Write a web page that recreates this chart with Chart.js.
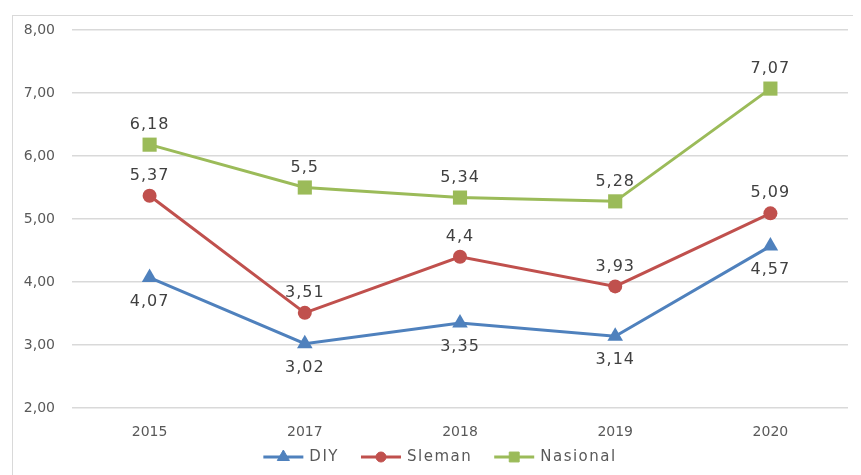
<!DOCTYPE html>
<html>
<head>
<meta charset="utf-8">
<script src="https://cdn.jsdelivr.net/npm/chart.js@4.4.0/dist/chart.umd.min.js"></script>
<style>
  html, body { margin: 0; padding: 0; background: #fff; }
  #wrap { position: relative; width: 861px; height: 475px; }
  #frame { position: absolute; left: 12px; top: 15px; width: 840px; height: 460px;
           border-left: 1px solid #d9d9d9; border-top: 1px solid #d9d9d9; }
  canvas { position: absolute; left: 0; top: 0; }
</style>
</head>
<body>
<div id="wrap">
  <div id="frame"></div>
  <canvas id="chart" width="861" height="475"></canvas>
</div>
<script>
const years = ["2015", "2017", "2018", "2019", "2020"];
const diy = [4.07, 3.02, 3.35, 3.14, 4.57];
const sleman = [5.37, 3.51, 4.4, 3.93, 5.09];
const nasional = [6.18, 5.5, 5.34, 5.28, 7.07];

const textColor = "#595959";

function fmt(v) {
  return String(v).replace(".", ",");
}

// labels next to each point, above or below
const pointLabels = {
  id: "pointLabels",
  afterDatasetsDraw(chart) {
    const ctx = chart.ctx;
    ctx.save();
    ctx.font = "16px 'DejaVu Sans'";
    ctx.letterSpacing = "1px";
    ctx.fillStyle = "#404040";
    ctx.textAlign = "center";
    ctx.textBaseline = "middle";
    chart.data.datasets.forEach((ds, i) => {
      const meta = chart.getDatasetMeta(i);
      meta.data.forEach((pt, j) => {
        const dy = ds.labelPos === "below" ? 24 : -20;
        ctx.fillText(fmt(ds.data[j]), pt.x, pt.y + dy);
      });
    });
    ctx.restore();
  },
};

// legend with line + marker, like the office one
const lineLegend = {
  id: "lineLegend",
  afterDraw(chart) {
    const ctx = chart.ctx;
    ctx.save();
    ctx.font = "15px 'DejaVu Sans'";
    ctx.letterSpacing = "1.5px";
    const lineLen = 40, gap = 6, itemGap = 22;
    const items = chart.data.datasets.map((ds) => ({
      ds: ds,
      w: lineLen + gap + ctx.measureText(ds.label).width,
    }));
    const total = items.reduce((s, it) => s + it.w, 0) + itemGap * (items.length - 1);
    let x = 440 - total / 2;
    const y = 457;
    items.forEach((it) => {
      const ds = it.ds;
      ctx.strokeStyle = ds.borderColor;
      ctx.lineWidth = 3;
      ctx.beginPath();
      ctx.moveTo(x, y);
      ctx.lineTo(x + lineLen, y);
      ctx.stroke();
      ctx.fillStyle = ds.borderColor;
      ctx.lineWidth = 1;
      Chart.helpers.drawPoint(ctx, {
        pointStyle: ds.pointStyle,
        radius: ds.legendRadius,
        rotation: 0,
        borderWidth: 1,
      }, x + lineLen / 2, y);
      ctx.fillStyle = textColor;
      ctx.textAlign = "left";
      ctx.textBaseline = "middle";
      ctx.fillText(ds.label, x + lineLen + gap, y);
      x += it.w + itemGap;
    });
    ctx.restore();
  },
};

function series(label, data, color, style, radius, legendRadius, pos) {
  return {
    label: label,
    data: data,
    borderColor: color,
    backgroundColor: color,
    pointBackgroundColor: color,
    pointBorderColor: color,
    pointStyle: style,
    pointRadius: radius,
    pointHoverRadius: radius,
    pointBorderWidth: 0,
    borderWidth: 3,
    tension: 0,
    legendRadius: legendRadius,
    labelPos: pos,
  };
}

new Chart(document.getElementById("chart"), {
  type: "line",
  data: {
    labels: years,
    datasets: [
      series("DIY", diy, "#4F81BD", "triangle", 9, 7, "below"),
      series("Sleman", sleman, "#C0504D", "circle", 7, 5, "above"),
      series("Nasional", nasional, "#9BBB59", "rect", 10, 7, "above"),
    ],
  },
  options: {
    responsive: false,
    animation: false,
    events: [],
    layout: { padding: { top: 30, right: 13, bottom: 37, left: 0 } },
    plugins: {
      legend: { display: false },
      tooltip: { enabled: false },
    },
    scales: {
      x: {
        offset: true,
        grid: { display: false },
        border: { display: false },
        ticks: { color: textColor, font: { family: "DejaVu Sans", size: 14 }, padding: 8 },
        afterFit(scale) { scale.height = 30; },
      },
      y: {
        min: 2,
        max: 8,
        ticks: {
          stepSize: 1,
          padding: 17,
          color: textColor,
          font: { family: "DejaVu Sans", size: 14 },
          callback: (v) => v.toFixed(2).replace(".", ","),
        },
        grid: { color: "#d9d9d9", lineWidth: 1.5, drawTicks: false },
        border: { display: false },
        afterFit(scale) { scale.width = 72; },
      },
    },
  },
  plugins: [pointLabels, lineLegend],
});
</script>
</body>
</html>
